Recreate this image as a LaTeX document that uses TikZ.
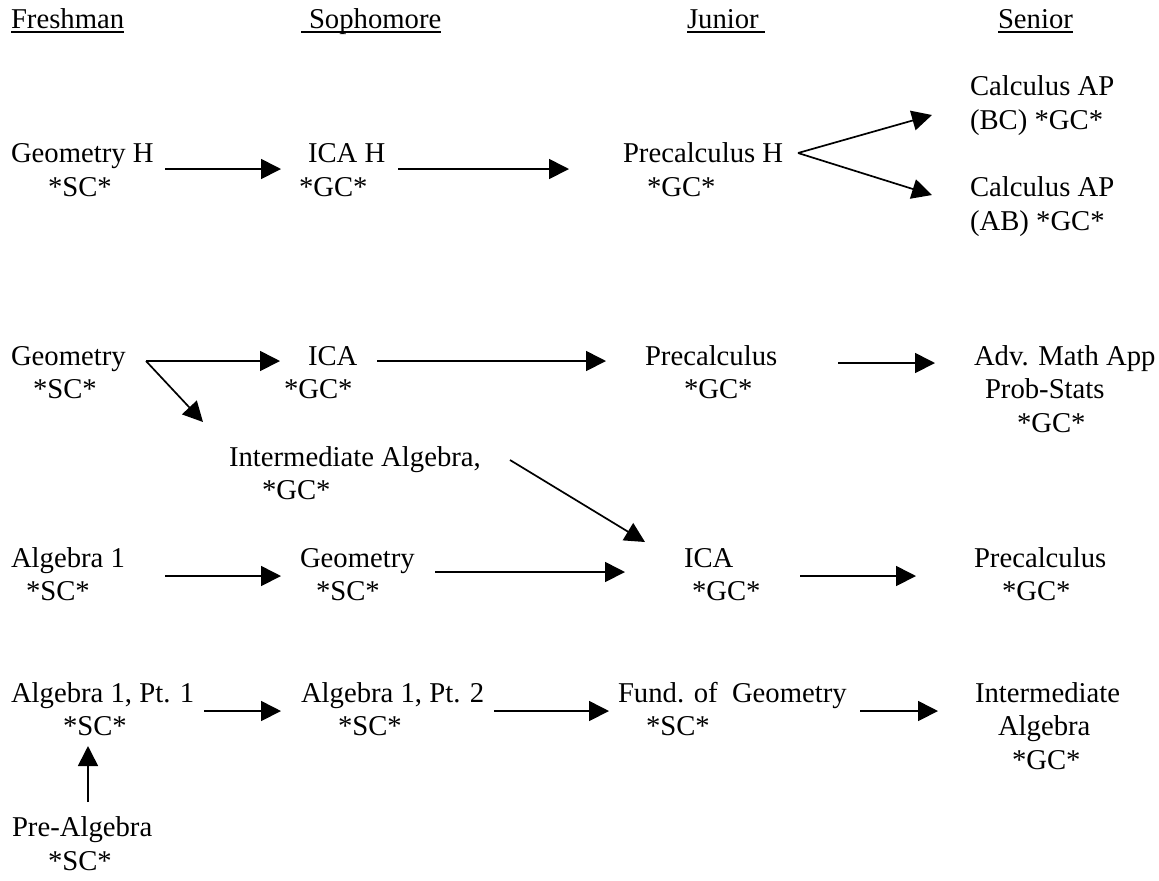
\documentclass[tikz,border=0pt]{standalone}
\usepackage{fontspec}
\setmainfont{Liberation Serif}
\usetikzlibrary{arrows.meta}
\newdimen\pxu \pxu=0.5pt
\newcommand\Lrow[2][0]{\hbox{\hspace*{#1\pxu}#2}}
\begin{document}
\begin{tikzpicture}[x=0.5pt,y=-0.5pt,
  crs/.style={anchor=base west,inner sep=0pt,outer sep=0pt,font=\fontsize{14.35pt}{16.85pt}\selectfont},
  arr/.style={line width=0.85pt,-{Triangle[length=10pt,width=10pt]}},
  uline/.style={line width=0.8pt}]
\useasboundingbox (0,0) rectangle (1159,880);
% headings
\node[crs] (hFr) at (11,28) {Freshman};
\node[crs] (hSo) at (309,28) {Sophomore};
\node[crs] (hJu) at (687,28) {Junior};
\node[crs] (hSe) at (998,28) {Senior};
\draw[uline] ([shift={(0,4)}]hFr.base west) -- ([shift={(0,4)}]hFr.base east);
\draw[uline] ([shift={(-8,4)}]hSo.base west) -- ([shift={(0,4)}]hSo.base east);
\draw[uline] ([shift={(0,4)}]hJu.base west) -- ([shift={(6,4)}]hJu.base east);
\draw[uline] ([shift={(0,4)}]hSe.base west) -- ([shift={(0,4)}]hSe.base east);
% row 1 (honors)
\node[crs] (geoH) at (11,162.8) {\vtop{\Lrow{Geometry H}\Lrow[37]{*SC*}}};
\node[crs] (icaH) at (299,162.8) {\vtop{\Lrow[9]{ICA H}\Lrow{*GC*}}};
\node[crs] (preH) at (623,162.8) {\vtop{\Lrow{Precalculus H}\Lrow[24]{*GC*}}};
\node[crs] (calcBC) at (970,95.4) {\vtop{\Lrow{Calculus AP}\Lrow{(BC) *GC*}}};
\node[crs] (calcAB) at (970,196.5) {\vtop{\Lrow{Calculus AP}\Lrow{(AB) *GC*}}};
\draw[arr] ([shift={(154,6.2)}]geoH.base west) -- ([shift={(-18,6.2)}]icaH.base west);
\draw[arr] ([shift={(99,6.2)}]icaH.base west) -- ([shift={(-54,6.2)}]preH.base west);
\coordinate (forkH) at ([shift={(175,-9.8)}]preH.base west);
\draw[arr] (forkH) -- ([shift={(-38,19.6)}]calcBC.base west);
\draw[arr] (forkH) -- ([shift={(-38,-1.5)}]calcAB.base west);
% row 2
\node[crs] (geo) at (11,365) {\vtop{\Lrow{Geometry}\Lrow[22]{*SC*}}};
\node[crs] (ica) at (284,365) {\vtop{\Lrow[24]{ICA}\Lrow{*GC*}}};
\node[crs] (pre) at (645,365) {\vtop{\Lrow{Precalculus}\Lrow[39]{*GC*}}};
\node[crs] (adv) at (974,365) {\vtop{\Lrow{Adv. Math App}\Lrow[11]{Prob-Stats}\Lrow[43]{*GC*}}};
\node[crs] (intA) at (229,466) {\vtop{\Lrow{Intermediate Algebra,}\Lrow[33]{*GC*}}};
\coordinate (forkG) at ([shift={(135,-4)}]geo.base west);
\draw[arr] (forkG) -- ([shift={(-4,-4)}]ica.base west);
\draw[arr] (forkG) -- ([shift={(-26,-44)}]intA.base west);
\draw[arr] ([shift={(93,-4)}]ica.base west) -- ([shift={(-39,-4)}]pre.base west);
\draw[arr] ([shift={(193,-2)}]pre.base west) -- ([shift={(-39,-2)}]adv.base west);
% row 3
\node[crs] (alg1) at (11,567) {\vtop{\Lrow{Algebra 1}\Lrow[15]{*SC*}}};
\node[crs] (geo3) at (300,567) {\vtop{\Lrow{Geometry}\Lrow[16]{*SC*}}};
\node[crs] (ica3) at (684,567) {\vtop{\Lrow{ICA}\Lrow[8]{*GC*}}};
\node[crs] (pre3) at (974,567) {\vtop{\Lrow{Precalculus}\Lrow[28]{*GC*}}};
\draw[arr] ([shift={(281,-6)}]intA.base west) -- ([shift={(-39,-25)}]ica3.base west);
\draw[arr] ([shift={(154,9)}]alg1.base west) -- ([shift={(-19,9)}]geo3.base west);
\draw[arr] ([shift={(135,5)}]geo3.base west) -- ([shift={(-59,5)}]ica3.base west);
\draw[arr] ([shift={(116,9)}]ica3.base west) -- ([shift={(-58,9)}]pre3.base west);
% row 4
\node[crs] (a1p1) at (11,702) {\vtop{\Lrow{Algebra 1, Pt. 1}\Lrow[52]{*SC*}}};
\node[crs] (a1p2) at (301,702) {\vtop{\Lrow{Algebra 1, Pt. 2}\Lrow[37]{*SC*}}};
\node[crs] (fund) at (618,702) {\vtop{\Lrow{Fund. of\ \ Geometry}\Lrow[28]{*SC*}}};
\node[crs] (intA2) at (975,702) {\vtop{\Lrow{Intermediate}\Lrow[23]{Algebra}\Lrow[37]{*GC*}}};
\node[crs] (preAlg) at (12,836.8) {\vtop{\Lrow{Pre-Algebra}\Lrow[36]{*SC*}}};
\draw[arr] ([shift={(193,9)}]a1p1.base west) -- ([shift={(-20,9)}]a1p2.base west);
\draw[arr] ([shift={(193,9)}]a1p2.base west) -- ([shift={(-9,9)}]fund.base west);
\draw[arr] ([shift={(242,9)}]fund.base west) -- ([shift={(-37,9)}]intA2.base west);
\draw[arr] ([shift={(76,-34.8)}]preAlg.base west) -- ([shift={(77,44)}]a1p1.base west);
\end{tikzpicture}
\end{document}
